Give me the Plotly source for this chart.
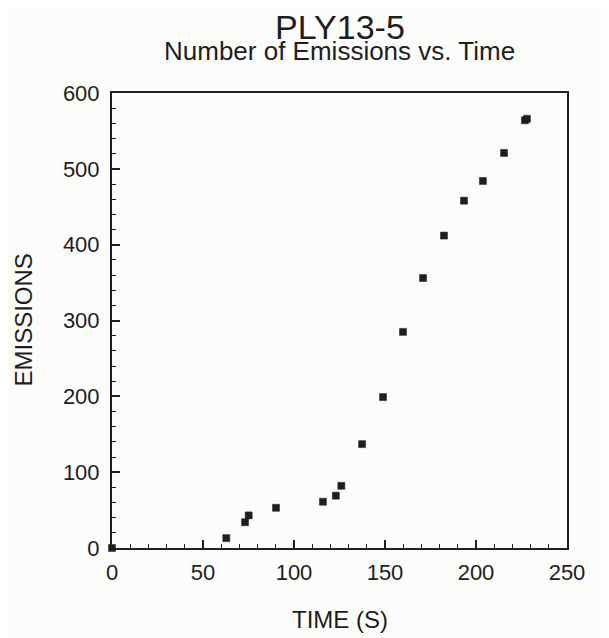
import plotly.graph_objects as go

# Data
time_s = [0, 62.8, 73.1, 75.1, 90.1, 115.9, 123.0, 126.0, 137.4, 148.9,
          159.9, 170.9, 182.4, 193.4, 203.8, 215.4, 226.9, 228.0]
emissions = [0, 13, 34, 43, 53, 61, 69, 82, 137, 199,
             285, 356, 412, 458, 484, 521, 564, 566]

x_ticks = [0, 50, 100, 150, 200, 250]
y_ticks = [0, 100, 200, 300, 400, 500, 600]

FONT = "Liberation Sans, Arial, Helvetica, sans-serif"
INK = "#1e1e1e"
BG = "#fcfcfa"
OFF = 8  # page body margin
W, H = 609 - OFF, 638 - OFF
L, T = 112 - OFF, 93 - OFF
PW, PH = 455, 455
R, B = W - L - PW, H - T - PH

fig = go.Figure()
fig.add_trace(go.Scatter(
    x=time_s, y=emissions, mode="markers",
    marker=dict(symbol="square", size=7, color=INK, line=dict(width=0.5, color=INK)),
    cliponaxis=False, showlegend=False,
))

axis_common = dict(
    showgrid=False, zeroline=False, automargin=False,
    showline=True, linecolor=INK, linewidth=2, mirror=True,
    ticks="inside", ticklen=8, tickwidth=1.5, tickcolor=INK,
    tickfont=dict(family=FONT, size=22, color=INK),
)

fig.update_layout(
    width=W, height=H,
    margin=dict(l=L, r=R, t=T, b=B, autoexpand=False),
    paper_bgcolor=BG, plot_bgcolor=BG,
    font=dict(family=FONT, color=INK),
    xaxis=dict(range=[0, 250], tickvals=x_ticks, ticktext=[str(v) for v in x_ticks],
               minor=dict(dtick=10, tick0=0, ticks="inside", ticklen=4, tickcolor=INK, tickwidth=1),
               ticklabelstandoff=4,
               **axis_common),
    yaxis=dict(range=[0, 600], tickvals=y_ticks, ticktext=[str(v) for v in y_ticks],
               minor=dict(dtick=20, tick0=0, ticks="inside", ticklen=4, tickcolor=INK, tickwidth=1),
               ticklabelstandoff=6,
               **axis_common),
)

# convert screen pixel positions to paper coords
def py(px):
    return (T + PH - (px - OFF)) / PH
def pxp(px):
    return ((px - OFF) - L) / PW

fig.layout.annotations = [
    dict(text="PLY13-5", x=0.5, xref="paper", y=py(27), yref="paper", yanchor="middle",
         showarrow=False, font=dict(family=FONT, size=34, color=INK)),
    dict(text="Number of Emissions vs. Time", x=0.5, xref="paper", y=py(51), yref="paper",
         yanchor="middle", showarrow=False, font=dict(family=FONT, size=26, color=INK)),
    dict(text="TIME (S)", x=0.5, xref="paper", y=py(619), yref="paper", yanchor="middle",
         showarrow=False, font=dict(family=FONT, size=24, color=INK)),
    dict(text="EMISSIONS", x=pxp(23), xref="paper", y=0.5, yref="paper", xanchor="center",
         yanchor="middle", textangle=-90, showarrow=False,
         font=dict(family=FONT, size=24, color=INK)),
]

fig.write_html("out.html")
